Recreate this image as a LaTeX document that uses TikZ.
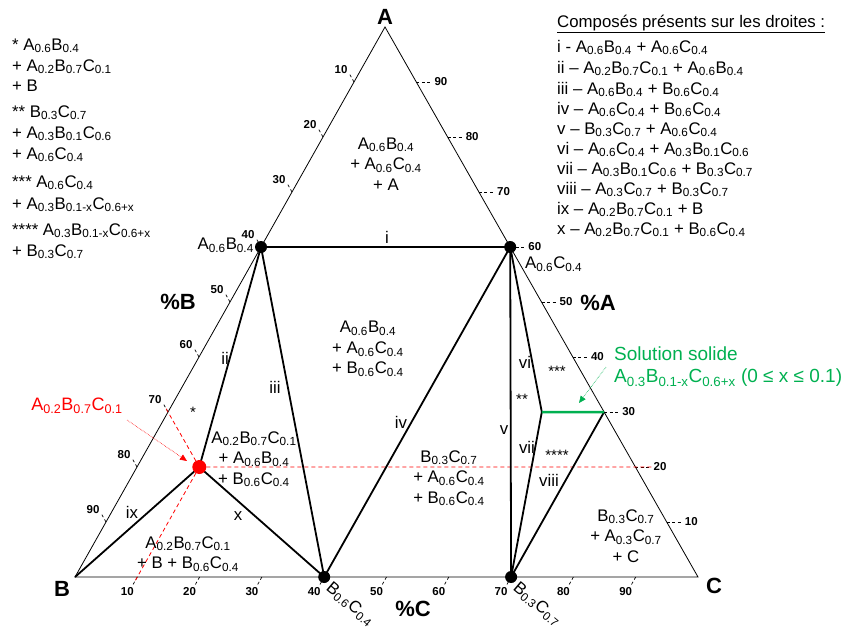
\documentclass[tikz,border=0pt]{standalone}
\usepackage{fontspec}
\setmainfont{Liberation Sans}
\usetikzlibrary{arrows.meta,calc}
\newcommand{\sbx}[1]{\textsubscript{#1}}
\definecolor{grn}{RGB}{0,176,80}
\definecolor{rd}{RGB}{255,0,0}
\begin{document}
\begin{tikzpicture}[x=1pt,y=-1pt,
  edge/.style={line width=0.8pt},
  thick line/.style={line width=1.8pt},
  tick/.style={line width=0.7pt, dash pattern=on 3pt off 2.5pt},
  ticklbl/.style={font=\fontsize{11.5}{13}\selectfont\bfseries, inner sep=0pt},
  lbl/.style={font=\fontsize{16.8}{20.5}\selectfont, inner sep=0pt, align=center},
  leg/.style={font=\fontsize{16.8}{19}\selectfont, inner sep=0pt, anchor=base west},
  big/.style={font=\fontsize{22}{25}\selectfont\bfseries, inner sep=0pt},
  star/.style={font=\fontsize{15}{16}\selectfont, inner sep=0pt},
  dot/.style={circle, fill=black, inner sep=0pt, minimum size=12pt},
  rdot/.style={circle, fill=rd, inner sep=0pt, minimum size=14pt},
  rdash/.style={rd, line width=0.8pt, dash pattern=on 4pt off 3pt}]
\useasboundingbox (0,0) rectangle (842,627);
% vertices
\coordinate (A) at (385,27);
\coordinate (B) at (75,577);
\coordinate (C) at (698,577);
% key compositions
\coordinate (pAB) at (barycentric cs:A=0.6,B=0.4);
\coordinate (pAC) at (barycentric cs:A=0.6,C=0.4);
\coordinate (pBC) at (barycentric cs:B=0.6,C=0.4);
\coordinate (pBCb) at (barycentric cs:B=0.3,C=0.7);
\coordinate (pR) at (barycentric cs:A=0.2,B=0.7,C=0.1);
\coordinate (pS1) at (barycentric cs:A=0.3,B=0.1,C=0.6);
\coordinate (pS2) at (barycentric cs:A=0.3,C=0.7);
% triangle
\draw[edge] (A) -- (B) -- (C) -- cycle;
% ticks
\foreach \v in {10,20,...,90}{
  \pgfmathsetmacro\w{\v/100}
  \pgfmathsetmacro\u{1-\w}
  \coordinate (eB\v) at (barycentric cs:A=\u,B=\w);
  \draw[tick] (eB\v) -- ++(-4.4,-7.8);
  \node[ticklbl] (tB\v) at ($(eB\v)+(-13,-12)$) {\v};
  \coordinate (eA\v) at (barycentric cs:A=\w,C=\u);
  \draw[tick] (eA\v) -- ++(16,0);
  \node[ticklbl, anchor=west] (tA\v) at ($(eA\v)+(18,0)$) {\v};
  \coordinate (eC\v) at (barycentric cs:B=\u,C=\w);
  \draw[tick] (eC\v) -- ++(-4.4,7.8);
  \node[ticklbl] (tC\v) at ($(eC\v)+(-10,15)$) {\v};
}
% red construction lines
\coordinate (rEnd1) at (652,467);
\coordinate (rEnd2) at ($(pR)+(-34.6,-60.8)$);
\coordinate (rEnd3) at ($(pR)+(-65.3,115.8)$);
\draw[rdash] (pR) -- (rEnd1);
\draw[rdash] (pR) -- (rEnd2);
\draw[rdash] (pR) -- (rEnd3);
% phase lines
\draw[thick line] (pAB) -- (pAC);
\draw[thick line] (pR) -- (pAB);
\draw[thick line] (pAB) -- (pBC);
\draw[thick line] (pBC) -- (pAC);
\draw[thick line] (pBCb) -- (pAC);
\draw[thick line] (pAC) -- (pS1);
\draw[thick line] (pS1) -- (pBCb);
\draw[thick line] (pBCb) -- (pS2);
\draw[thick line] (pR) -- (B);
\draw[thick line] (pR) -- (pBC);
\draw[grn, line width=2.5pt] (pS1) -- (pS2);
% dots
\node[dot] (nAB) at (pAB) {};
\node[dot] (nAC) at (pAC) {};
\node[dot] (nBC) at (pBC) {};
\node[dot] (nBCb) at (pBCb) {};
\node[rdot] (nR) at (pR) {};
% vertex and axis labels
\node[big] (lA) at (385,17) {A};
\node[big] (lB) at (62,589) {B};
\node[big] (lC) at (714,586) {C};
\node[big] (pctB) at (178,302) {\%B};
\node[big] (pctA) at (598,303) {\%A};
\node[big] (pctC) at (413,609) {\%C};
% line labels
\node[lbl] (li) at (387,237) {i};
\node[lbl] (lii) at (225,358) {ii};
\node[lbl] (liii) at (275,387) {iii};
\node[lbl] (liv) at (401,422) {iv};
\node[lbl] (lv) at (504,430) {v};
\node[lbl] (lvi) at (525,362) {vi};
\node[lbl] (lvii) at (527,447) {vii};
\node[lbl] (lviii) at (549,480) {viii};
\node[lbl] (lix) at (132,512) {ix};
\node[lbl] (lx) at (238,516) {x};
% stars
\node[star] (s1) at (193,412) {*};
\node[star] (s2) at (522,399) {**};
\node[star] (s3) at (557,371) {***};
\node[star] (s4) at (557,455) {****};
% compound labels
\node[lbl, anchor=east] (cAB) at (254,245) {A\sbx{0.6}B\sbx{0.4}};
\node[lbl, anchor=west] (cAC) at (525,264) {A\sbx{0.6}C\sbx{0.4}};
\node[lbl, anchor=north west, rotate=-40] (cBC) at (333,580) {B\sbx{0.6}C\sbx{0.4}};
\node[lbl, anchor=north west, rotate=-40] (cBCb) at (520,580) {B\sbx{0.3}C\sbx{0.7}};
% region labels
\node[lbl] (r1) at (386,164) {A\sbx{0.6}B\sbx{0.4}\\+ A\sbx{0.6}C\sbx{0.4}\\+ A};
\node[lbl] (r2) at (368,349) {A\sbx{0.6}B\sbx{0.4}\\+ A\sbx{0.6}C\sbx{0.4}\\+ B\sbx{0.6}C\sbx{0.4}};
\node[lbl] (r3) at (254,459) {A\sbx{0.2}B\sbx{0.7}C\sbx{0.1}\\+ A\sbx{0.6}B\sbx{0.4}\\+ B\sbx{0.6}C\sbx{0.4}};
\node[lbl] (r4) at (188,554) {A\sbx{0.2}B\sbx{0.7}C\sbx{0.1}\\+ B + B\sbx{0.6}C\sbx{0.4}};
\node[lbl] (r5) at (449,478) {B\sbx{0.3}C\sbx{0.7}\\+ A\sbx{0.6}C\sbx{0.4}\\+ B\sbx{0.6}C\sbx{0.4}};
\node[lbl] (r6) at (626,536) {B\sbx{0.3}C\sbx{0.7}\\+ A\sbx{0.3}C\sbx{0.7}\\+ C};
% red annotation
\node[lbl, text=rd, font=\fontsize{18}{20}\selectfont] (redlbl) at (77,406) {A\sbx{0.2}B\sbx{0.7}C\sbx{0.1}};
\coordinate (redA) at (127,420);
\coordinate (redB) at (187,461);
\draw[rd, line width=0.6pt, densely dotted, -{Triangle[length=7pt,width=6pt]}] (redA) -- (redB);
% green annotation
\node[lbl, text=grn, anchor=west, font=\fontsize{19}{22}\selectfont] (g1) at (614,354) {Solution solide};
\node[lbl, text=grn, anchor=west, font=\fontsize{19}{22}\selectfont] (g2) at (614,378) {A\sbx{0.3}B\sbx{0.1-x}C\sbx{0.6+x} (0 ≤ x ≤ 0.1)};
\coordinate (grA) at (606,367);
\coordinate (grB) at (579,403);
\draw[grn, line width=0.6pt, densely dotted, -{Triangle[length=7pt,width=6pt]}] (grA) -- (grB);
% left legend
\node[leg] (k1) at (12,50) {* A\sbx{0.6}B\sbx{0.4}};
\node[leg] (k2) at (12,71) {+ A\sbx{0.2}B\sbx{0.7}C\sbx{0.1}};
\node[leg] (k3) at (12,91) {+ B};
\node[leg] (k4) at (12,117) {** B\sbx{0.3}C\sbx{0.7}};
\node[leg] (k5) at (12,138) {+ A\sbx{0.3}B\sbx{0.1}C\sbx{0.6}};
\node[leg] (k6) at (12,159) {+ A\sbx{0.6}C\sbx{0.4}};
\node[leg] (k7) at (12,187) {*** A\sbx{0.6}C\sbx{0.4}};
\node[leg] (k8) at (12,209) {+ A\sbx{0.3}B\sbx{0.1-x}C\sbx{0.6+x}};
\node[leg] (k9) at (12,235) {**** A\sbx{0.3}B\sbx{0.1-x}C\sbx{0.6+x}};
\node[leg] (k10) at (12,256) {+ B\sbx{0.3}C\sbx{0.7}};
% right legend
\node[leg] (h0) at (557,27) {\underline{Composés présents sur les droites :}};
\node[leg] (h1) at (557,52) {i - A\sbx{0.6}B\sbx{0.4} + A\sbx{0.6}C\sbx{0.4}};
\node[leg] (h2) at (557,73) {ii – A\sbx{0.2}B\sbx{0.7}C\sbx{0.1} + A\sbx{0.6}B\sbx{0.4}};
\node[leg] (h3) at (557,94) {iii – A\sbx{0.6}B\sbx{0.4} + B\sbx{0.6}C\sbx{0.4}};
\node[leg] (h4) at (557,114) {iv – A\sbx{0.6}C\sbx{0.4} + B\sbx{0.6}C\sbx{0.4}};
\node[leg] (h5) at (557,134) {v – B\sbx{0.3}C\sbx{0.7} + A\sbx{0.6}C\sbx{0.4}};
\node[leg] (h6) at (557,154) {vi – A\sbx{0.6}C\sbx{0.4} + A\sbx{0.3}B\sbx{0.1}C\sbx{0.6}};
\node[leg] (h7) at (557,174) {vii – A\sbx{0.3}B\sbx{0.1}C\sbx{0.6} + B\sbx{0.3}C\sbx{0.7}};
\node[leg] (h8) at (557,194) {viii – A\sbx{0.3}C\sbx{0.7} + B\sbx{0.3}C\sbx{0.7}};
\node[leg] (h9) at (557,214) {ix – A\sbx{0.2}B\sbx{0.7}C\sbx{0.1} + B};
\node[leg] (h10) at (557,234) {x – A\sbx{0.2}B\sbx{0.7}C\sbx{0.1} + B\sbx{0.6}C\sbx{0.4}};
\end{tikzpicture}
\end{document}
